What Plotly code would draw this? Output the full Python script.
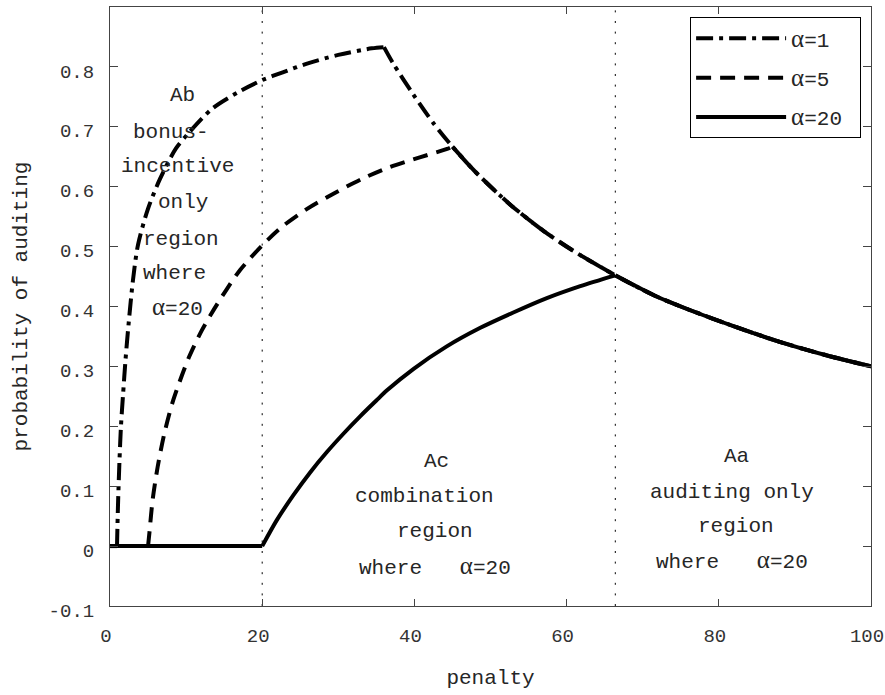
import plotly.graph_objects as go

# ---- data -------------------------------------------------------------
# alpha = 1 (dash-dot)
penalty_a1 = [0, 0.92, 1.05, 1.25, 1.45, 1.71, 2.04, 2.43, 3.02, 3.68, 4.99, 6.57,
              8.67, 10.5, 13.5, 17.3, 20, 22.7, 26, 30, 34.4, 36,
              37.2, 39.8, 42.5, 45, 48, 52.6, 57, 61, 66.4,
              71.6, 76, 82.2, 88, 94, 100]
prob_a1 = [0, 0, 0.068, 0.144, 0.202, 0.252, 0.311, 0.369, 0.444, 0.503, 0.563, 0.613,
           0.664, 0.692, 0.731, 0.761, 0.778, 0.791, 0.806, 0.82, 0.831, 0.833,
           0.806, 0.755, 0.706, 0.667, 0.625, 0.57, 0.526, 0.492, 0.452,
           0.418, 0.395, 0.366, 0.341, 0.319, 0.30]

# alpha = 5 (dashed)
penalty_a5 = [0, 5.0, 5.17, 5.6, 6.26, 7.14, 8.32, 10.4, 12.1, 13.7, 15.4, 17.1,
              20, 22.7, 25.9, 29.6, 33.1, 36.8, 40.7, 44.3, 45,
              48, 52.6, 57, 61, 66.4, 71.6, 76, 82.2, 88, 94, 100]
prob_a5 = [0, 0, 0.021, 0.077, 0.132, 0.188, 0.244, 0.316, 0.361, 0.396, 0.430, 0.461,
           0.502, 0.534, 0.563, 0.590, 0.613, 0.633, 0.649, 0.663, 0.667,
           0.625, 0.57, 0.526, 0.492, 0.452, 0.418, 0.395, 0.366, 0.341, 0.319, 0.30]

# alpha = 20 (solid)
penalty_a20 = [0, 20, 21.9, 24.1, 26.3, 28.5, 30.7, 32.9, 35.0, 36.4, 39.9, 44.2,
               48.6, 53.0, 57.4, 61.8, 66.4, 71.6, 76, 82.2, 88, 94, 100]
prob_a20 = [0, 0, 0.043, 0.085, 0.123, 0.157, 0.188, 0.217, 0.243, 0.260, 0.296, 0.333,
            0.364, 0.390, 0.414, 0.434, 0.452, 0.418, 0.395, 0.366, 0.341, 0.319, 0.30]

series_names = ["1", "5", "20"]

# region boundaries (penalty values)
region_bounds = [20, 66.4]

x_tickvals = [0, 20, 40, 60, 80, 100]
y_tickvals = [-0.1, 0, 0.1, 0.2, 0.3, 0.4, 0.5, 0.6, 0.7, 0.8]
y_ticktext = ["-0.1", "0", "0.1", "0.2", "0.3", "0.4", "0.5", "0.6", "0.7", "0.8"]

region_b_lines = ["Ab", "bonus-", "incentive", "only", "region", "where", "@=20"]
region_c_lines = ["Ac", "combination", "region", "where\u00a0\u00a0\u00a0@=20"]
region_a_lines = ["Aa", "auditing only", "region", "where\u00a0\u00a0\u00a0@=20"]

x_title = "penalty"
y_title = "probability of auditing"

# ---- styling ----------------------------------------------------------
MONO = "Liberation Mono"
TXT = "#262626"
AXC = "#444444"
NBSP = "\u00a0"


def alpha_html(s):
    return s.replace("@", "<span style='font-family:Liberation Serif;font-size:25px'>\u03b1</span>")


def split_pieces(xs, ys):
    """Split a curve into flat start, rising branch and falling branch so the
    kinks at the start of the rise and at the peak stay sharp."""
    k0 = max(i for i, v in enumerate(ys) if v == 0)
    kp = ys.index(max(ys))
    return [
        (xs[:k0 + 1], ys[:k0 + 1], "linear"),
        (xs[k0:kp + 1], ys[k0:kp + 1], "spline"),
        (xs[kp:], ys[kp:], "spline"),
    ]


fig = go.Figure()

dashes = ["17px,6px,4px,6px", "15px,9px", "solid"]
data = [(penalty_a1, prob_a1), (penalty_a5, prob_a5), (penalty_a20, prob_a20)]

for (xs, ys), name, dash in zip(data, series_names, dashes):
    for j, (px, py, shape) in enumerate(split_pieces(xs, ys)):
        fig.add_trace(go.Scatter(
            x=px, y=py, mode="lines",
            name=alpha_html("@=" + name) + NBSP,
            legendgroup=name, showlegend=(j == 1),
            line=dict(color="black", width=4, dash=dash, shape=shape, smoothing=0.8),
            hoverinfo="skip",
        ))

# dotted region boundaries
for xb in region_bounds:
    fig.add_shape(type="line", xref="x", yref="paper", x0=xb, x1=xb, y0=0, y1=1,
                  line=dict(color="black", width=1, dash="2px,8.6px"), layer="below")


# region labels, one annotation per text line
def add_block(lines, xc, ys, xoffs):
    for txt, y, dx in zip(lines, ys, xoffs):
        fig.add_annotation(x=xc, y=y, xref="x", yref="y", text=alpha_html(txt),
                           showarrow=False, xshift=dx,
                           font=dict(family=MONO, size=21, color=TXT),
                           xanchor="center", yanchor="middle")


add_block(region_b_lines, 8.9, [0.752, 0.690, 0.633, 0.573, 0.512, 0.455, 0.399],
          [5, -7, 0, 5, 3, -3, 0])
add_block(region_c_lines, 42.4, [0.141, 0.083, 0.024, -0.034], [4, -8, 2, 2])
add_block(region_a_lines, 82.0, [0.150, 0.090, 0.033, -0.023], [2, -2, 2, -2])

fig.update_layout(
    width=885, height=695,
    margin=dict(l=110, r=14, t=7, b=89, autoexpand=False),
    paper_bgcolor="white", plot_bgcolor="white",
    showlegend=True,
    legend=dict(
        x=0.987, xanchor="right", y=0.983, yanchor="top",
        bordercolor="black", borderwidth=1, bgcolor="white",
        font=dict(family=MONO, size=21, color=TXT),
        itemwidth=90, tracegroupgap=9, traceorder="grouped",
    ),
    xaxis=dict(
        range=[0, 100], tickvals=x_tickvals, ticks="inside", ticklen=7,
        tickcolor=AXC, linecolor=AXC, linewidth=1, mirror="ticks",
        showgrid=False, zeroline=False,
        tickfont=dict(family=MONO, size=19, color="#333"),
        ticklabelstandoff=12, ticklabelshift=-4,
        title=dict(text=x_title + NBSP, font=dict(family=MONO, size=21, color=TXT),
                   standoff=22),
    ),
    yaxis=dict(
        range=[-0.1, 0.9], tickvals=y_tickvals, ticktext=y_ticktext,
        ticks="inside", ticklen=8,
        tickcolor=AXC, linecolor=AXC, linewidth=1, mirror="ticks",
        showgrid=False, zeroline=False,
        tickfont=dict(family=MONO, size=19, color="#333"),
        ticklabelstandoff=11, ticklabelshift=4,
        title=dict(text=y_title + NBSP * 2, font=dict(family=MONO, size=21, color=TXT),
                   standoff=15),
    ),
)

fig.write_html("out.html")
